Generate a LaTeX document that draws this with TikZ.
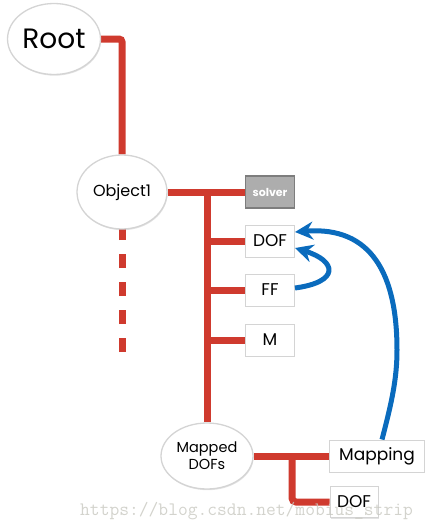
\documentclass[tikz,border=0pt]{standalone}
\usepackage{fontspec}
\setmainfont{Poppins}
\usepackage{tikz}
\usetikzlibrary{arrows.meta,shapes.geometric,shadows,backgrounds}
\definecolor{branch}{HTML}{CF3A2E}
\definecolor{flowblue}{HTML}{0A6BBD}
\definecolor{rim}{HTML}{D4D4D4}
\definecolor{solvergray}{HTML}{ADADAD}
\definecolor{solverrim}{HTML}{7D7D7D}
\definecolor{stamp}{HTML}{C8C8C0}
\tikzset{
  link/.style={draw=branch, line width=7pt},
  linkdash/.style={link, dash pattern=on 14pt off 14pt},
  flow/.style={draw=flowblue, line width=5pt, -{Stealth[length=18pt,width=18pt,inset=6pt]}},
  bubble/.style={ellipse, draw=rim, line width=1.3pt, fill=white, inner sep=0pt,
    drop shadow={shadow xshift=0.6pt, shadow yshift=-1.2pt, opacity=0.22}},
  leaf/.style={rectangle, draw=rim, line width=1pt, fill=white, inner sep=0pt,
    minimum width=49pt, minimum height=32pt, font=\fontsize{17}{19}\selectfont,
    drop shadow={shadow xshift=0.8pt, shadow yshift=-1.2pt, opacity=0.22}},
  solverbox/.style={leaf, fill=solvergray, draw=solverrim, line width=1.5pt,
    text=white, font=\fontsize{11}{13}\selectfont\bfseries},
  wm/.style={text=stamp, opacity=0.8, font=\fontsize{19}{19}\ttfamily, inner sep=0pt},
}
\begin{document}
\begin{tikzpicture}[x=1pt,y=-1pt]
  \useasboundingbox (0,0) rectangle (432,528);

  \node[bubble, minimum width=93pt, minimum height=71pt, font=\fontsize{28}{30}\selectfont] (root) at (54,39) {Root};
  \node[bubble, minimum width=90pt, minimum height=74pt, font=\fontsize{16}{18}\selectfont] (object1) at (122,192) {Object1};
  \node[bubble, minimum width=92pt, minimum height=66pt, align=center, font=\fontsize{14.5}{17}\selectfont] (mapped) at (207,456) {Mapped\\DOFs};

  \node[solverbox] (solver) at (270,192) {solver};
  \node[leaf] (dof) at (270,241) {DOF};
  \node[leaf] (ff) at (270,290) {FF};
  \node[leaf] (m) at (270,340) {M};
  \node[leaf, minimum width=95pt] (mapping) at (377,456) {Mapping};
  \node[leaf, minimum width=48pt, minimum height=31pt] (dofb) at (354,502) {DOF};

  \coordinate (tail) at (122,352);
  \coordinate (fork) at (mapped.north |- solver.west);
  \coordinate (fork2) at (292,456);

  \begin{scope}[on background layer]
    \draw[link, rounded corners=3pt] (root.east) -| (object1.north);
    \draw[linkdash] (tail) -- (object1.center);
    \draw[link] (object1.east) -- (solver.west);
    \draw[link] (fork) -- (mapped.north);
    \foreach \leafname in {dof,ff,m}
      \draw[link] (fork |- \leafname.west) -- (\leafname.west);
    \draw[link] (mapped.east) -- (mapping.west);
    \draw[link, rounded corners=4pt] (fork2) |- (dofb.west);
  \end{scope}

  % mapping feeds the dofs, forces feed back
  \draw[flow] ([xshift=5pt]mapping.north) .. controls (391,405) and (397,380) .. (397,350)
    .. controls (397,275) and (372,226) .. ([yshift=9pt]dof.east);
  \draw[flow] ([yshift=2pt]ff.east) .. controls (340,282) and (337,261) .. ([yshift=-7pt]dof.east);

  \node[wm, anchor=base west] (stamp) at (80,515) {https://blog.csdn.net/mobius\_strip};
\end{tikzpicture}
\end{document}
